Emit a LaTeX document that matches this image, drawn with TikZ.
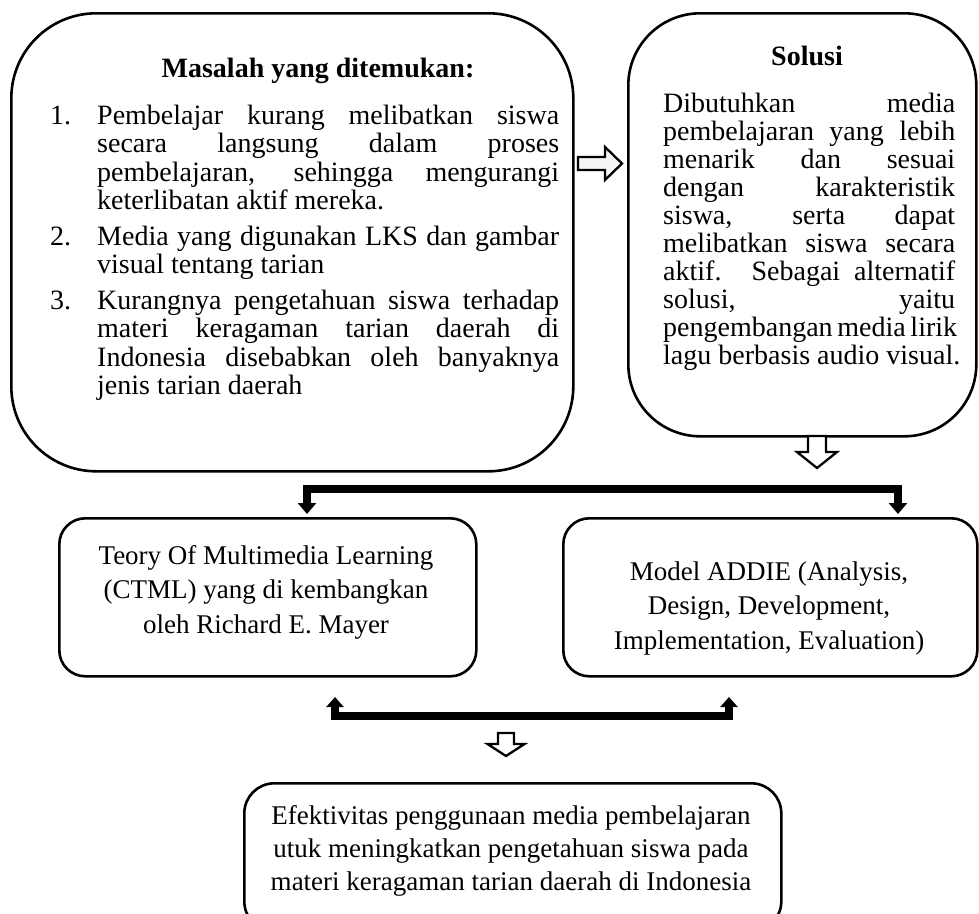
\documentclass[tikz,border=0pt]{standalone}
\usepackage{fontspec}
\setmainfont{Liberation Serif}
\usetikzlibrary{arrows.meta,calc}
\newcommand\jline[2]{\hbox{\makebox[#1][s]{#2}}}
\newcommand\lline[2]{\hbox{\makebox[#1][l]{#2}}}
\tikzset{
  roundbox/.style={draw, line width=2.6pt, inner sep=0pt, anchor=north west},
  hollow/.style={draw, line width=2.3pt, line join=miter, fill=white},
  bracketA/.style={line width=8pt, line join=miter,
    {Triangle[width=18pt,length=11pt]}-{Triangle[width=18pt,length=11pt]}},
  bracketB/.style={line width=8pt, line join=miter,
    {Triangle[width=17pt,length=10pt]}-{Triangle[width=17pt,length=10pt]}},
  txt/.style={inner sep=0pt, anchor=base west, font=\fontsize{28}{28.5}\selectfont},
  ctxt/.style={inner sep=0pt, anchor=base, font=\fontsize{27}{34.5}\selectfont},
}
\begin{document}
\begin{tikzpicture}[x=1pt,y=-1pt]
\useasboundingbox (0,0) rectangle (979,913);
% boxes
\node[roundbox, rounded corners=85pt, minimum width=562pt, minimum height=458pt] (b1) at (10,12) {};
\node[roundbox, rounded corners=72pt, minimum width=348pt, minimum height=423pt] (b2) at (627,12) {};
\node[roundbox, rounded corners=26pt, minimum width=417pt, minimum height=158pt] (b3) at (58,517) {};
\node[roundbox, rounded corners=26pt, minimum width=414pt, minimum height=158pt] (b4) at (562,517) {};
\node[roundbox, rounded corners=30pt, minimum width=537pt, minimum height=148pt] (b5) at (243,782) {};
% box 1 text
\node[ctxt, font=\fontsize{28}{30}\selectfont] (t1) at (318,77) {\textbf{Masalah yang ditemukan:}};
\node[txt] (l1) at (50,124) {\vtop{\hsize=509pt \baselineskip=28.5pt \lineskiplimit=-100pt
  \hbox{\makebox[47pt][l]{1.}\makebox[462pt][s]{Pembelajar kurang melibatkan siswa}}
  \hbox{\hspace*{47pt}\makebox[462pt][s]{secara langsung dalam proses}}
  \hbox{\hspace*{47pt}\makebox[462pt][s]{pembelajaran, sehingga mengurangi}}
  \hbox{\hspace*{47pt}\makebox[462pt][l]{keterlibatan aktif mereka.}}
  \vskip 7pt
  \hbox{\makebox[47pt][l]{2.}\makebox[462pt][s]{Media yang digunakan LKS dan gambar}}
  \hbox{\hspace*{47pt}\makebox[462pt][l]{visual tentang tarian}}
  \vskip 7pt
  \hbox{\makebox[47pt][l]{3.}\makebox[462pt][s]{Kurangnya pengetahuan siswa terhadap}}
  \hbox{\hspace*{47pt}\makebox[462pt][s]{materi keragaman tarian daerah di}}
  \hbox{\hspace*{47pt}\makebox[462pt][s]{Indonesia disebabkan oleh banyaknya}}
  \hbox{\hspace*{47pt}\makebox[462pt][l]{jenis tarian daerah}}}};
% box 2 text
\node[ctxt, font=\fontsize{28}{30}\selectfont] (t2) at (807,65) {\textbf{Solusi}};
\node[txt] (l2) at (663,112) {\vtop{\hsize=292pt \baselineskip=28pt \lineskiplimit=-100pt
  \jline{292pt}{Dibutuhkan media}
  \jline{292pt}{pembelajaran yang lebih}
  \jline{292pt}{menarik dan sesuai}
  \jline{292pt}{dengan karakteristik}
  \jline{292pt}{siswa, serta dapat}
  \jline{292pt}{melibatkan siswa secara}
  \jline{292pt}{aktif. Sebagai alternatif}
  \jline{292pt}{solusi, yaitu}
  \jline{292pt}{pengembangan media lirik}
  \lline{292pt}{lagu berbasis audio visual.}}};
% box 3,4,5 text
\node[ctxt] (l3) at (266,564) {\begin{tabular}[t]{@{}c@{}}Teory Of Multimedia Learning\\(CTML) yang di kembangkan\\oleh Richard E. Mayer\end{tabular}};
\node[ctxt] (l4) at (769,580) {\begin{tabular}[t]{@{}c@{}}Model ADDIE (Analysis,\\Design, Development,\\Implementation, Evaluation)\end{tabular}};
\node[ctxt, font=\fontsize{27}{33}\selectfont] (l5) at (511,824) {\begin{tabular}[t]{@{}c@{}}Efektivitas penggunaan media pembelajaran\\utuk meningkatkan pengetahuan siswa pada\\materi keragaman tarian daerah di Indonesia\end{tabular}};
% hollow arrows
\draw[hollow, fill=gray!8] (578,157) -- (605,157) -- (605,147) -- (622,163.5) -- (605,180) -- (605,170) -- (578,170) -- cycle;
\draw[hollow] (808,436) -- (808,452) -- (797,452) -- (817,468) -- (837,452) -- (826,452) -- (826,436) -- cycle;
\draw[hollow] (498,733) -- (498,744) -- (487.5,744) -- (506,756) -- (524.5,744) -- (514,744) -- (514,733) -- cycle;
% brackets
\coordinate (p1) at (307,514);
\coordinate (p2) at (898,514);
\coordinate (q1) at (335,697);
\coordinate (q2) at (729,697);
\draw[bracketA] (p1) -- (307,489) -- (898,489) -- (p2);
\draw[bracketB] (q1) -- (335,716) -- (729,716) -- (q2);
\end{tikzpicture}
\end{document}
